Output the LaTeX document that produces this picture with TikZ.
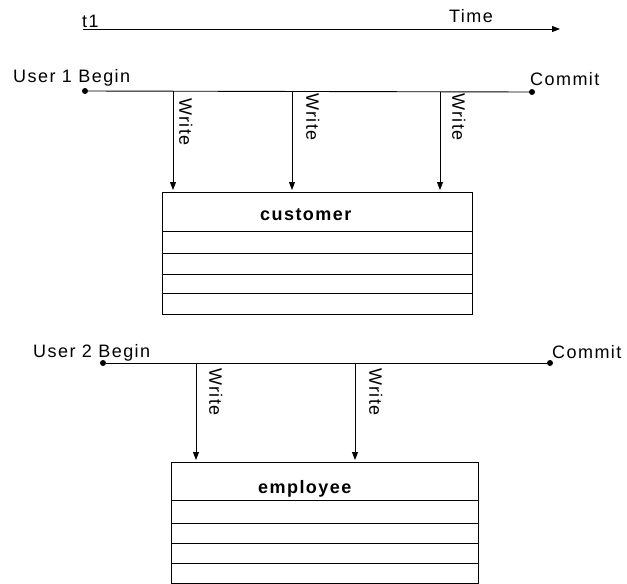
\documentclass[tikz,border=0pt]{standalone}
\usepackage{fontspec}
\setmainfont[LetterSpace=8]{Liberation Sans}
\usetikzlibrary{arrows.meta}

\begin{document}
\begin{tikzpicture}[x=1pt,y=-1pt,font=\fontsize{18}{20}\selectfont,
    dot/.style={circle,fill,inner sep=0pt,minimum size=6pt},
    txt/.style={anchor=base west,inner sep=0pt},
    wtxt/.style={anchor=south west,inner sep=0pt,rotate=-90},
    tbl/.style={draw,line width=0.9pt,anchor=north west,inner sep=0pt},
    wr/.style={line width=0.9pt,-{Triangle[width=6pt,length=8pt]},shorten >=2pt}]
    \useasboundingbox (0,0) rectangle (627,584);
    % time axis
    \coordinate (t0) at (83,29);
    \coordinate (t9) at (560,29);
    \draw[wr,shorten >=0pt] (t0) -- (t9);
    \node[txt] (tone) at (82,27) {t1};
    \node[txt] (time) at (449,22) {Time};
    % user 1
    \node[dot] (b1) at (85,91) {};
    \node[dot] (c1) at (532,92) {};
    \draw[line width=0.9pt] (b1) -- (c1);
    \node[txt] (u1) at (13,82) {User 1 Begin};
    \node[txt] (m1) at (530,85) {Commit};
    \node[tbl,minimum width=310pt,minimum height=122pt] (cust) at (162,192) {};
    \foreach \yy in {231,253,274,293}
        \draw[line width=0.9pt] (cust.west |- 0,\yy) -- (cust.east |- 0,\yy);
    \node[txt,font=\fontsize{18}{20}\selectfont\bfseries] (custname) at (260,220) {customer};
    \coordinate (wa) at (173,91);
    \coordinate (wb) at (292,92);
    \coordinate (wc) at (440,92);
    \foreach \w in {wa,wb,wc}
        \draw[wr] (\w) -- (\w |- cust.north);
    \node[wtxt] (la) at (179,98) {Write};
    \node[wtxt] (lb) at (306,93) {Write};
    \node[wtxt] (lc) at (452,93) {Write};
    % user 2
    \node[dot] (b2) at (103,363) {};
    \node[dot] (c2) at (550,363) {};
    \draw[line width=0.9pt] (b2) -- (c2);
    \node[txt] (u2) at (33,357) {User 2 Begin};
    \node[txt] (m2) at (552,358) {Commit};
    \node[tbl,minimum width=307pt,minimum height=121pt] (empl) at (171,462) {};
    \foreach \yy in {500,523,543,563}
        \draw[line width=0.9pt] (empl.west |- 0,\yy) -- (empl.east |- 0,\yy);
    \node[txt,font=\fontsize{18}{20}\selectfont\bfseries] (emplname) at (258,493) {employee};
    \coordinate (wd) at (196,363);
    \coordinate (we) at (355,363);
    \foreach \w in {wd,we}
        \draw[wr] (\w) -- (\w |- empl.north);
    \node[wtxt] (ld) at (209,368) {Write};
    \node[wtxt] (le) at (369,368) {Write};
\end{tikzpicture}
\end{document}
